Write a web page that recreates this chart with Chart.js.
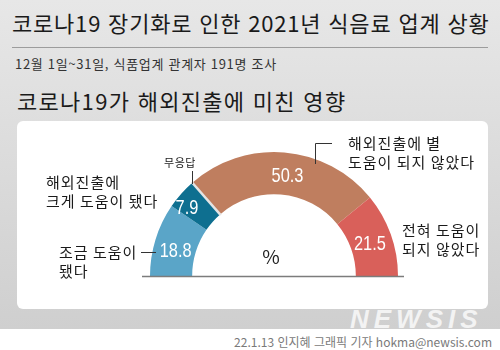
<!DOCTYPE html>
<html lang="ko">
<head>
<meta charset="utf-8">
<script src="https://cdn.jsdelivr.net/npm/chart.js@4/dist/chart.umd.min.js"></script>
<style>
  html, body { margin: 0; padding: 0; }
  body { width: 500px; height: 350px; position: relative; overflow: hidden; background: #fff;
         font-family: "Noto Sans CJK KR", "Noto Sans", sans-serif; color: #1a1a1a; }
  .abs { position: absolute; white-space: nowrap; }
  #bg { left: 0; top: 0; width: 500px; height: 329px; background: linear-gradient(#e7e7e7, #cfcfcf); }
  #title { left: 12px; top: 7px; font-size: 22px; line-height: 30px; letter-spacing: 0.8px; }
  #rule { left: 12px; top: 47px; width: 476px; height: 1px; background: #9c9c9c; }
  #sub { left: 15px; top: 55px; font-size: 13px; line-height: 18px; color: #333; letter-spacing: 0.7px; }
  #head { left: 17px; top: 86px; font-size: 22px; line-height: 28px; letter-spacing: 1.3px; }
  #panel { left: 17px; top: 121px; width: 471px; height: 188px; background: #fff; border-radius: 6px; }
  #mark { left: 350px; top: 305px; font: italic bold 26px "Liberation Sans", Arial, sans-serif;
          letter-spacing: 5px; color: rgba(255,255,255,0.75); line-height: 28px; }
  #foot { right: 8px; top: 333px; font-size: 12px; line-height: 18px; color: #7a7a7a; }
  canvas { position: absolute; left: 0; top: 0; }
</style>
</head>
<body>
<div id="bg" class="abs"></div>
<div id="title" class="abs">코로나19 장기화로 인한 2021년 식음료 업계 상황</div>
<div id="rule" class="abs"></div>
<div id="sub" class="abs">12월 1일~31일, 식품업계 관계자 191명 조사</div>
<div id="head" class="abs">코로나19가 해외진출에 미친 영향</div>
<div id="panel" class="abs"></div>
<div id="mark" class="abs">NEWSIS</div>
<div id="foot" class="abs">22.1.13 인지혜 그래픽 기자 hokma@newsis.com</div>
<canvas id="pieChart" width="500" height="350"></canvas>
<script>
// 해외진출 영향 (%)
const categories = ['조금 도움이 됐다', '무응답', '해외진출에 별 도움이 되지 않았다', '전혀 도움이 되지 않았다'];
const values = [18.8, 7.9, 50.3, 21.5];
const colors = ['#5aa5c8', '#0e6f90', '#bf7e5f', '#d9605a'];

// label text, split into lines as in the graphic
const labelLines = [['조금 도움이', '됐다'], ['무응답'], ['해외진출에 별', '도움이 되지 않았다'], ['전혀 도움이', '되지 않았다']];
const extraLabel = ['해외진출에', '크게 도움이 됐다'];

const korFont = '"Noto Sans CJK KR", "Noto Sans", sans-serif';
const numFont = '"Liberation Sans", Arial, sans-serif';

// small nudges for the white numbers, relative to the slice centre
const valueNudge = [[0, 6], [-10, 0], [5, 3], [-1, 3]];

const labelPlugin = {
    id: 'labels',
    afterDatasetsDraw(chart) {
        const ctx = chart.ctx;
        const arcs = chart.getDatasetMeta(0).data;
        const cx = arcs[0].x;
        const cy = arcs[0].y;
        const outer = arcs[0].outerRadius;
        const inner = arcs[0].innerRadius;

        ctx.save();

        // thin separator between 무응답 and 별 도움 안됨
        const a = arcs[2].startAngle;
        ctx.strokeStyle = '#e4e4e4';
        ctx.lineWidth = 2.5;
        ctx.beginPath();
        ctx.moveTo(cx + Math.cos(a) * (inner - 1), cy + Math.sin(a) * (inner - 1));
        ctx.lineTo(cx + Math.cos(a) * (outer + 1), cy + Math.sin(a) * (outer + 1));
        ctx.stroke();

        // base line
        ctx.strokeStyle = '#7c7c7c';
        ctx.lineWidth = 1.5;
        ctx.beginPath();
        ctx.moveTo(cx - outer - 8, cy + 0.5);
        ctx.lineTo(cx + outer + 6, cy + 0.5);
        ctx.stroke();

        // values in the slices (narrow figures)
        ctx.fillStyle = '#fff';
        ctx.font = '21px ' + numFont;
        ctx.textAlign = 'center';
        ctx.textBaseline = 'middle';
        arcs.forEach((arc, i) => {
            const p = arc.getCenterPoint();
            ctx.save();
            ctx.translate(p.x + valueNudge[i][0], p.y + valueNudge[i][1]);
            ctx.scale(0.78, 1);
            ctx.fillText(values[i].toFixed(1), 0, 0);
            ctx.restore();
        });

        // % in the middle
        ctx.fillStyle = '#222';
        ctx.font = '19px ' + korFont;
        ctx.fillText('%', cx - 3, cy - 19);

        // connector lines
        ctx.strokeStyle = '#333';
        ctx.lineWidth = 1;
        ctx.beginPath();
        ctx.moveTo(cx - 133, cy - 23.5);
        ctx.lineTo(cx - 118, cy - 23.5);
        ctx.moveTo(cx - 81.5, cy - 105);
        ctx.lineTo(cx - 81.5, cy - 92);
        ctx.moveTo(cx + 58, cy - 132.5);
        ctx.lineTo(cx + 41.5, cy - 132.5);
        ctx.lineTo(cx + 41.5, cy - 112);
        ctx.stroke();

        // category labels
        ctx.fillStyle = '#1a1a1a';
        ctx.textAlign = 'left';
        ctx.font = '15px ' + korFont;
        ctx.letterSpacing = '1px';
        const spots = [[-215, -24], null, [74, -133], [128, -46]];
        labelLines.forEach((lines, i) => {
            if (!spots[i]) return;
            lines.forEach((t, k) => ctx.fillText(t, cx + spots[i][0], cy + spots[i][1] + k * 19));
        });
        extraLabel.forEach((t, k) => ctx.fillText(t, cx - 228, cy - 94 + k * 19));

        ctx.textAlign = 'center';
        ctx.font = '11px ' + korFont;
        ctx.letterSpacing = '0.5px';
        ctx.fillText(labelLines[1][0], cx - 94, cy - 113);

        ctx.restore();
    }
};

const ctx = document.getElementById('pieChart').getContext('2d');
new Chart(ctx, {
    type: 'doughnut',
    data: {
        labels: categories,
        datasets: [{
            data: values,
            backgroundColor: colors,
            borderWidth: 0
        }]
    },
    options: {
        responsive: false,
        devicePixelRatio: 1,
        animation: false,
        rotation: -90,
        circumference: 180,
        cutout: '66%',
        layout: {
            padding: { left: 150, right: 102, top: 152, bottom: 74 }
        },
        plugins: {
            legend: { display: false },
            tooltip: { enabled: false }
        }
    },
    plugins: [labelPlugin]
});
</script>
</body>
</html>
